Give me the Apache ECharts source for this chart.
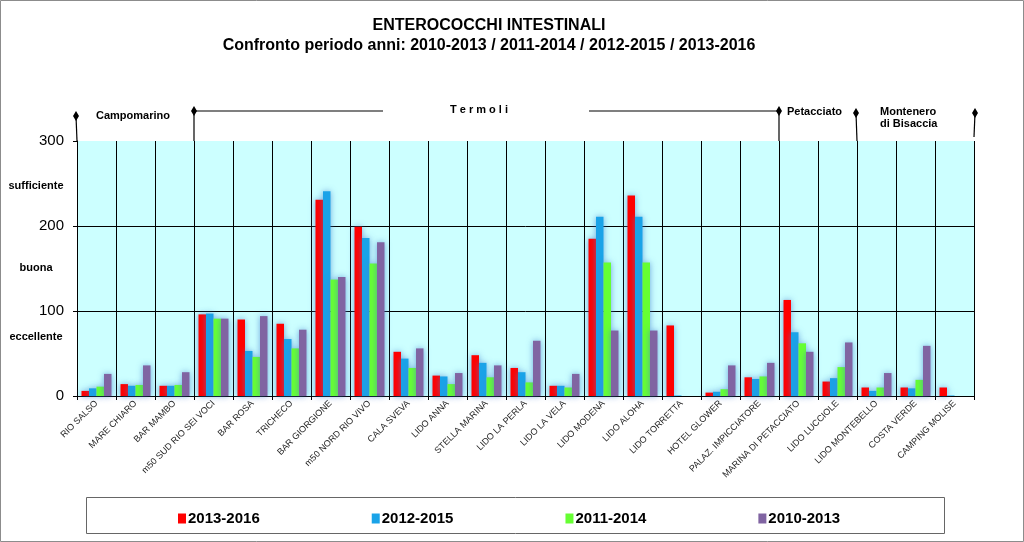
<!DOCTYPE html>
<html>
<head>
<meta charset="utf-8">
<script src="https://cdn.jsdelivr.net/npm/echarts@6/dist/echarts.min.js"></script>
<style>
  html, body { margin: 0; padding: 0; background: #fff; }
  #main { width: 1024px; height: 542px; }
</style>
</head>
<body>
<div id="main"></div>
<script>
// stazioni
var categories = ["RIO SALSO", "MARE CHIARO", "BAR MAMBO", "m50 SUD RIO SEI VOCI", "BAR ROSA", "TRICHECO",
  "BAR GIORGIONE", "m50 NORD RIO VIVO", "CALA SVEVA", "LIDO ANNA", "STELLA MARINA", "LIDO LA PERLA",
  "LIDO LA VELA", "LIDO MODENA", "LIDO ALOHA", "LIDO TORRETTA", "HOTEL GLOWER", "PALAZ. IMPICCIATORE",
  "MARINA DI PETACCIATO", "LIDO LUCCIOLE", "LIDO MONTEBELLO", "COSTA VERDE", "CAMPING MOLISE"];
var v2013_2016 = [6, 14, 12, 96, 90, 85, 231, 199, 52, 24, 48, 33, 12, 185, 236, 83, 4, 22, 113, 17, 10, 10, 10];
var v2012_2015 = [9, 12, 12, 97, 53, 67, 241, 186, 44, 23, 39, 28, 12, 211, 211, 0.6, 5, 20, 75, 21, 6, 9, 0.6];
var v2011_2014 = [11, 13, 13, 91, 46, 56, 137, 156, 33, 14, 22, 16, 10, 157, 157, 0, 8, 23, 62, 34, 10, 19, 0];
var v2010_2013 = [26, 36, 28, 91, 94, 78, 140, 181, 56, 27, 36, 65, 26, 77, 77, 0, 36, 39, 52, 63, 27, 59, 0];
var yTicks = [0, 100, 200, 300];
var levels = [{ name: "sufficiente", y: 186 }, { name: "buona", y: 268 }, { name: "eccellente", y: 337 }];

var myChart = echarts.init(document.getElementById("main"));

var colors = ["#ff0000", "#1aa3e8", "#66ff33", "#8064a2"];
var names = ["2013-2016", "2012-2015", "2011-2014", "2010-2013"];
var values = [v2013_2016, v2012_2015, v2011_2014, v2010_2013];

var seriesData = [];
for (var k = 0; k < 4; k++) {
  seriesData.push({
    name: names[k],
    type: "bar",
    barWidth: 7.5,
    barGap: "0%",
    data: values[k],
    itemStyle: {
      color: colors[k],
      shadowBlur: 6,
      shadowColor: "rgba(70,130,210,0.7)"
    },
    animation: false
  });
}

var gLeft = 77, gRight = 974, gTop = 141, gBottom = 396;
var step = (gRight - gLeft) / categories.length;
function bx(i) { return gLeft + i * step; }

function diamond(x, y) {
  return {
    type: "polygon",
    shape: { points: [[x, y - 5], [x + 3, y], [x, y + 5], [x - 3, y]] },
    style: { fill: "#000" }
  };
}
function vline(x1, y1, x2, y2) {
  return { type: "line", shape: { x1: x1, y1: y1, x2: x2, y2: y2 }, style: { stroke: "#000", lineWidth: 1.2 } };
}
var bold = "bold 11px 'Liberation Sans', Arial";

var graphics = [
  { type: "rect", shape: { x: 0.5, y: 0.5, width: 1023, height: 541 }, style: { fill: "none", stroke: "#8c8c8c", lineWidth: 1 } },
  { type: "rect", shape: { x: 86.5, y: 497.5, width: 858, height: 36 }, style: { fill: "none", stroke: "#666", lineWidth: 1 } },
  // Campomarino
  vline(76, 116, bx(0), gTop), diamond(76, 116),
  { type: "text", x: 96, y: 110, style: { text: "Campomarino", font: bold, fill: "#000" } },
  // Termoli
  vline(bx(3), 111, bx(3), gTop), diamond(bx(3), 111),
  vline(bx(3), 111, 383, 111), vline(589, 111, bx(18), 111),
  { type: "text", x: 479, y: 104, style: { text: "T e r m o l i", font: bold, fill: "#000", align: "center" } },
  // Petacciato
  vline(bx(18), 111, bx(18), gTop), diamond(bx(18), 111),
  { type: "text", x: 787, y: 106, style: { text: "Petacciato", font: bold, fill: "#000" } },
  // Montenero
  vline(bx(20) - 1, 113, bx(20), gTop), diamond(bx(20) - 1, 113),
  { type: "text", x: 880, y: 106, style: { text: "Montenero\ndi Bisaccia", font: bold, fill: "#000", lineHeight: 12 } },
  vline(bx(23) + 1, 113, bx(23), gTop - 4), diamond(bx(23) + 1, 113)
];
levels.forEach(function (l) {
  graphics.push({ type: "text", x: 36, y: l.y - 6, style: { text: l.name, font: bold, fill: "#000", align: "center" } });
});

var option = {
  backgroundColor: "#fff",
  title: {
    text: "ENTEROCOCCHI INTESTINALI\nConfronto periodo anni: 2010-2013 / 2011-2014 / 2012-2015 / 2013-2016",
    left: 484,
    top: 11,
    textAlign: "center",
    textStyle: { fontFamily: "'Liberation Sans', Arial", fontSize: 16, fontWeight: "bold", color: "#000", lineHeight: 20 }
  },
  legend: {
    data: names,
    left: 173,
    top: 506,
    icon: "rect",
    itemWidth: 8,
    itemHeight: 10,
    itemGap: 112,
    textStyle: { fontFamily: "'Liberation Sans', Arial", fontSize: 15, fontWeight: "bold", color: "#000", padding: [0, 0, 0, -3] }
  },
  grid: {
    left: gLeft,
    right: 1024 - gRight,
    top: gTop,
    bottom: 542 - gBottom,
    show: true,
    backgroundColor: "#ccffff",
    borderWidth: 0
  },
  xAxis: {
    type: "category",
    data: categories,
    axisLine: { show: true, lineStyle: { color: "#000", width: 1 } },
    axisTick: { show: true, interval: 0, length: 4, lineStyle: { color: "#000" } },
    splitLine: { show: true, interval: 0, lineStyle: { color: "#000", width: 1 } },
    axisLabel: {
      interval: 0,
      rotate: 45,
      fontSize: 9,
      fontFamily: "'Liberation Sans', Arial",
      color: "#222",
      margin: 6
    }
  },
  yAxis: {
    type: "value",
    min: 0,
    max: 300,
    interval: 100,
    axisLine: { show: true, lineStyle: { color: "#000", width: 1 } },
    axisTick: { show: true, length: 4, lineStyle: { color: "#000" } },
    splitLine: { show: true, showMaxLine: false, lineStyle: { color: "#000", width: 1 } },
    axisLabel: {
      fontSize: 15,
      fontFamily: "'Liberation Sans', Arial",
      color: "#000",
      margin: 13,
      formatter: function (v) { return yTicks.indexOf(v) >= 0 ? String(v) : ""; }
    }
  },
  series: seriesData,
  graphic: graphics,
  animation: false
};
myChart.setOption(option);
</script>
</body>
</html>
